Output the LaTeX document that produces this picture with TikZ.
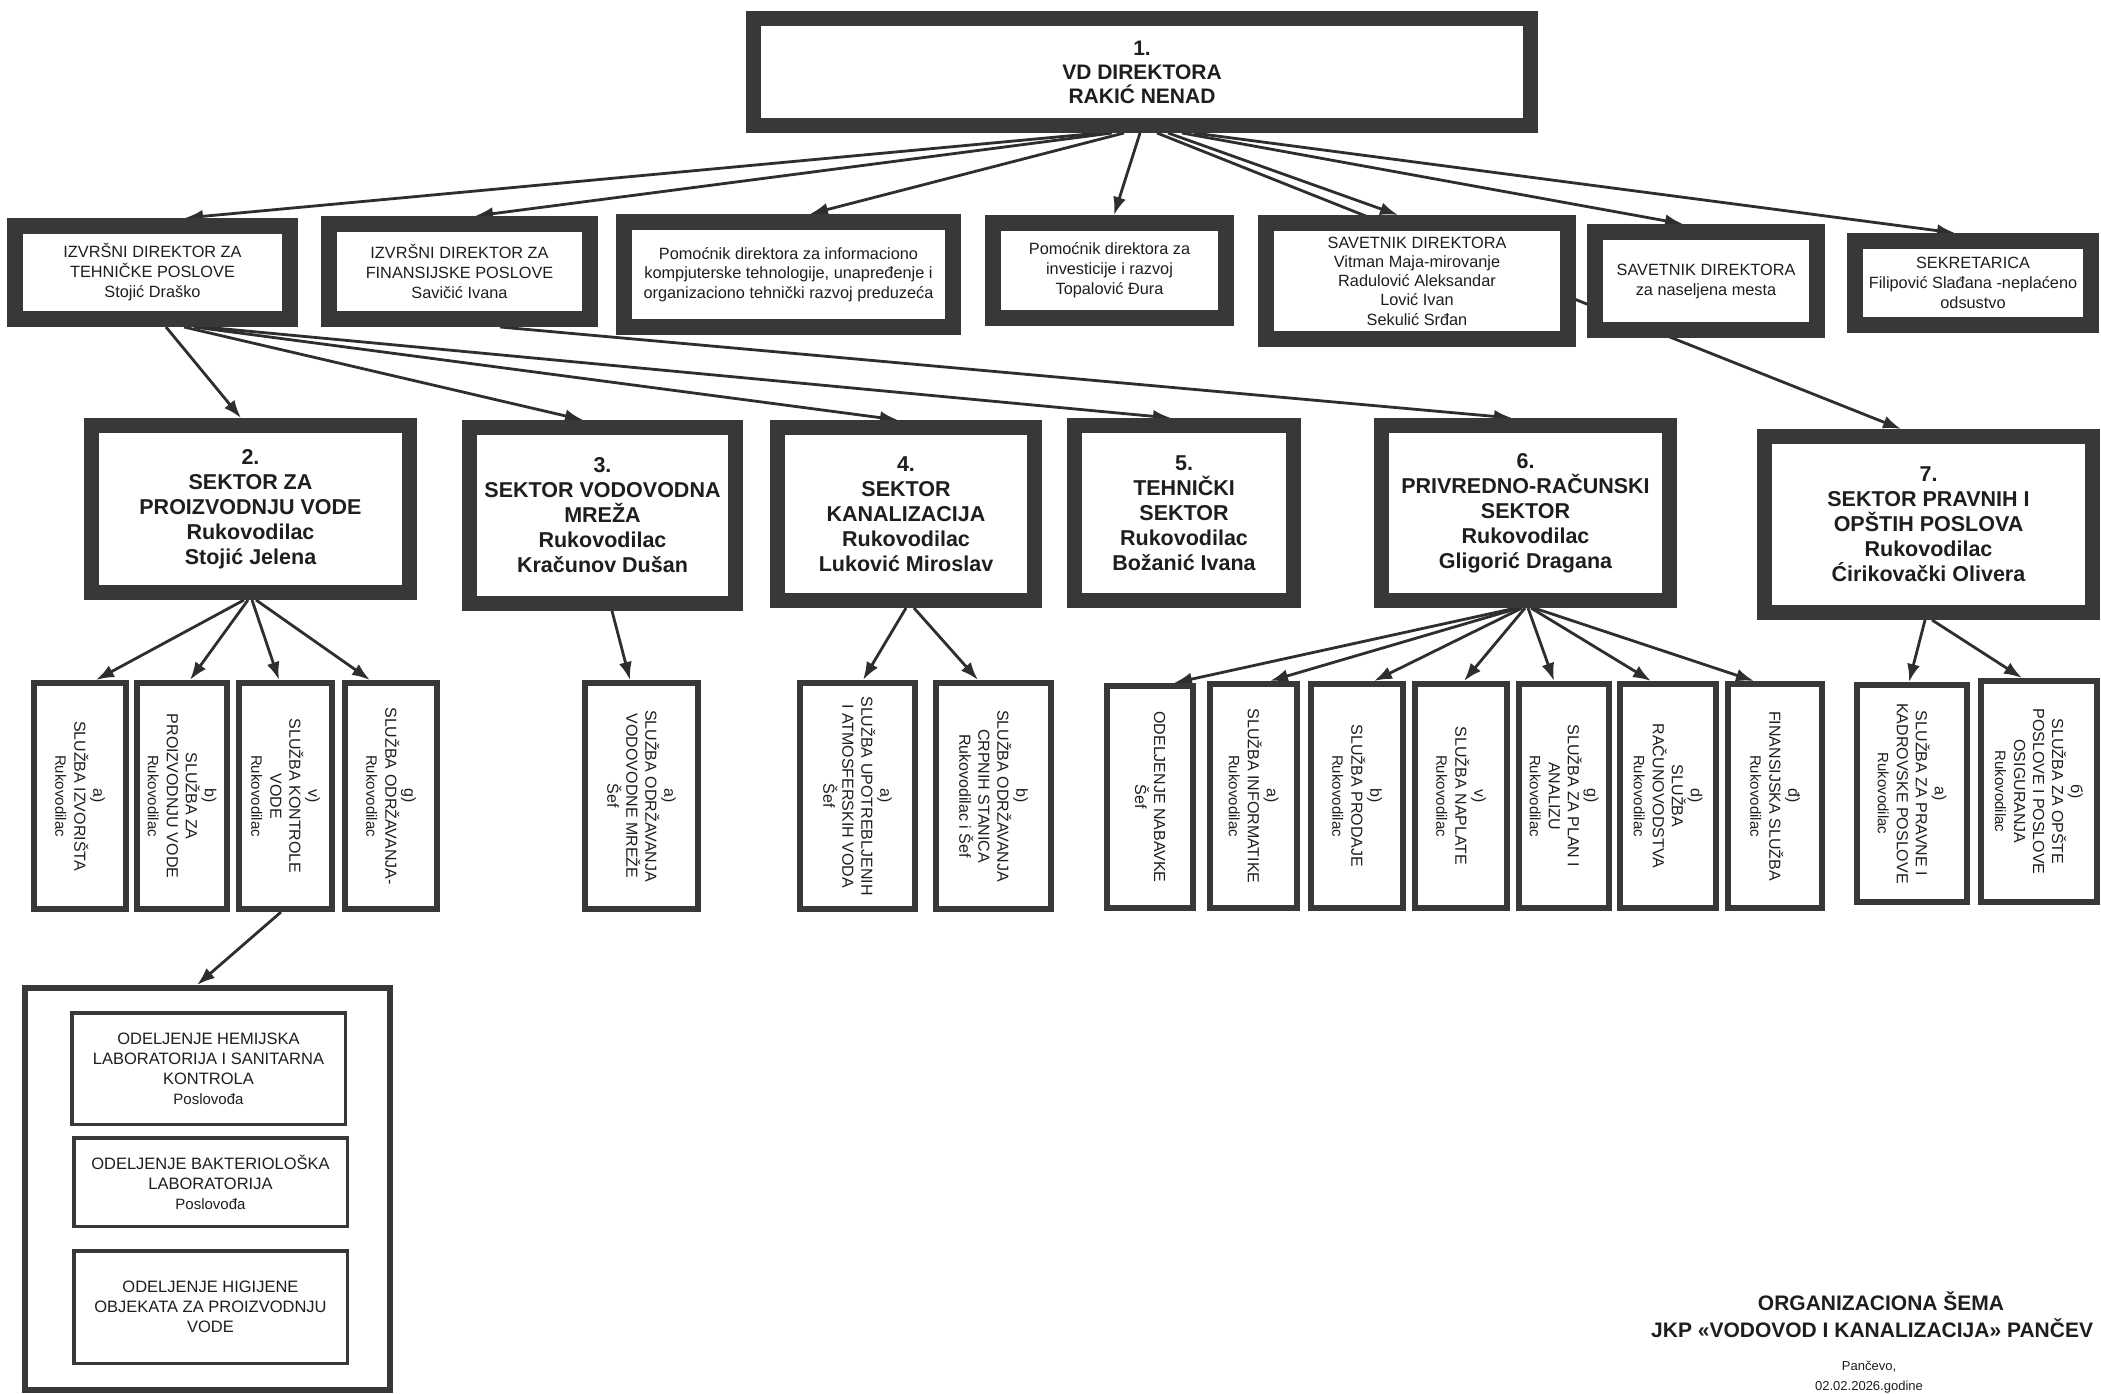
\documentclass[tikz,border=0pt]{standalone}
\usepackage{fontspec}
\setmainfont{Liberation Sans}
\usetikzlibrary{arrows.meta}
\pgfdeclarelayer{bg}
\pgfsetlayers{bg,main}
\definecolor{frame}{HTML}{383838}
\definecolor{ink}{HTML}{1E1E1E}
\definecolor{wirec}{HTML}{2E2E2E}
\tikzset{
  bxbase/.style={draw=frame, fill=white, inner sep=0pt, align=center, text=ink},
  b1/.style={bxbase, font=\bfseries\fontsize{21}{24}\selectfont},
  b2/.style={bxbase, font=\fontsize{16.3}{20}\selectfont},
  b2s/.style={bxbase, font=\fontsize{16.3}{19.3}\selectfont},
  b3/.style={bxbase, font=\bfseries\fontsize{21.5}{25}\selectfont},
  vb/.style={bxbase},
  vt/.style={rotate=-90, align=center, text=ink, inner sep=0pt, font=\fontsize{16}{19}\selectfont},
  labo/.style={bxbase},
  labi/.style={bxbase, font=\fontsize{16.5}{20}\selectfont},
  wire/.style={draw=wirec, line width=2.8pt, -{Latex[length=18pt,width=13pt]}},
}
\newcommand\BX[8]{\node[#6, line width=#7pt, minimum width={(#4)-(#2)-(#7)}, minimum height={(#5)-(#3)-(#7)}] (#1) at ({((#2)+(#4))/2},{((#3)+(#5))/2}) {#8};}
\newcommand\VB[6]{\BX{#1}{#2}{#3}{#4}{#5}{vb}{6}{}\node[vt] (#1t) at (#1.center) {#6};}
\newcommand\sub[1]{{\fontsize{15}{18}\selectfont #1}}
\begin{document}
\begin{tikzpicture}[x=1pt,y=-1pt]
\useasboundingbox (0,0) rectangle (2101,1394);
% top
\BX{top}{746}{11}{1538}{133}{b1}{15}{1.\\VD DIREKTORA\\RAKIĆ NENAD}
% row 2
\BX{teh}{7}{218}{298}{327}{b2}{16}{IZVRŠNI DIREKTOR ZA\\TEHNIČKE POSLOVE\\Stojić Draško}
\BX{fin}{321}{216}{598}{327}{b2}{16}{IZVRŠNI DIREKTOR ZA\\FINANSIJSKE POSLOVE\\Savičić Ivana}
\BX{inf}{616}{214}{961}{335}{b2s}{16}{Pomoćnik direktora za informaciono\\kompjuterske tehnologije, unapređenje i\\organizaciono tehnički razvoj preduzeća}
\BX{inv}{985}{215}{1234}{326}{b2}{16}{Pomoćnik direktora za\\investicije i razvoj\\Topalović Đura}
\BX{vit}{1258}{215}{1576}{347}{b2s}{16}{SAVETNIK DIREKTORA\\Vitman Maja-mirovanje\\Radulović Aleksandar\\Lović Ivan\\Sekulić Srđan}
\BX{nas}{1587}{224}{1825}{338}{b2}{16}{SAVETNIK DIREKTORA\\za naseljena mesta}
\BX{sek}{1847}{233}{2099}{333}{b2}{16}{SEKRETARICA\\Filipović Slađana -neplaćeno\\odsustvo}
% sectors
\BX{s2}{84}{418}{417}{600}{b3}{15}{2.\\SEKTOR ZA\\PROIZVODNJU VODE\\Rukovodilac\\Stojić Jelena}
\BX{s3}{462}{420}{743}{611}{b3}{15}{3.\\SEKTOR VODOVODNA\\MREŽA\\Rukovodilac\\Kračunov Dušan}
\BX{s4}{770}{420}{1042}{608}{b3}{15}{4.\\SEKTOR\\KANALIZACIJA\\Rukovodilac\\Luković Miroslav}
\BX{s5}{1067}{418}{1301}{608}{b3}{15}{5.\\TEHNIČKI\\SEKTOR\\Rukovodilac\\Božanić Ivana}
\BX{s6}{1374}{418}{1677}{608}{b3}{15}{6.\\PRIVREDNO-RAČUNSKI\\SEKTOR\\Rukovodilac\\Gligorić Dragana}
\BX{s7}{1757}{429}{2100}{620}{b3}{15}{7.\\SEKTOR PRAVNIH I\\OPŠTIH POSLOVA\\Rukovodilac\\Ćirikovački Olivera}
% row 4
\VB{iz}{31}{680}{129}{912}{a)\\SLUŽBA IZVORIŠTA\\\sub{Rukovodilac}}
\VB{pv}{134}{680}{230}{912}{b)\\SLUŽBA ZA\\PROIZVODNJU VODE\\\sub{Rukovodilac}}
\VB{kv}{236}{680}{335}{912}{v)\\SLUŽBA KONTROLE\\VODE\\\sub{Rukovodilac}}
\VB{od}{342}{680}{440}{912}{g)\\SLUŽBA ODRŽAVANJA-\\\sub{Rukovodilac}}
\VB{vm}{582}{680}{701}{912}{a)\\SLUŽBA ODRŽAVANJA\\VODOVODNE MREŽE\\Šef}
\VB{up}{797}{680}{918}{912}{a)\\SLUŽBA UPOTREBLJENIH\\I ATMOSFERSKIH VODA\\Šef}
\VB{cr}{933}{680}{1054}{912}{b)\\SLUŽBA ODRŽAVANJA\\CRPNIH STANICA\\Rukovodilac i Šef}
\VB{nb}{1104}{683}{1196}{911}{ODELJENJE NABAVKE\\Šef}
\VB{ik}{1207}{681}{1300}{911}{a)\\SLUŽBA INFORMATIKE\\\sub{Rukovodilac}}
\VB{pr}{1308}{681}{1406}{911}{b)\\SLUŽBA PRODAJE\\\sub{Rukovodilac}}
\VB{np}{1412}{681}{1510}{911}{v)\\SLUŽBA NAPLATE\\\sub{Rukovodilac}}
\VB{pl}{1516}{681}{1612}{911}{g)\\SLUŽBA ZA PLAN I\\ANALIZU\\\sub{Rukovodilac}}
\VB{ra}{1617}{681}{1719}{911}{d)\\SLUŽBA\\RAČUNOVODSTVA\\\sub{Rukovodilac}}
\VB{fi}{1725}{681}{1825}{911}{đ)\\FINANSIJSKA SLUŽBA\\\sub{Rukovodilac}}
\VB{pk}{1854}{682}{1970}{905}{a)\\SLUŽBA ZA PRAVNE I\\KADROVSKE POSLOVE\\\sub{Rukovodilac}}
\VB{os}{1978}{678}{2100}{905}{б)\\SLUŽBA ZA OPŠTE\\POSLOVE I POSLOVE\\OSIGURANJA\\\sub{Rukovodilac}}
% lab
\BX{lab}{22}{985}{393}{1393}{labo}{6}{}
\BX{l1}{70}{1011}{347}{1126}{labi}{3.5}{ODELJENJE HEMIJSKA\\LABORATORIJA I SANITARNA\\KONTROLA\\{\fontsize{15}{19}\selectfont Poslovođa}}
\BX{l2}{72}{1136}{349}{1228}{labi}{3.5}{ODELJENJE BAKTERIOLOŠKA\\LABORATORIJA\\{\fontsize{15}{19}\selectfont Poslovođa}}
\BX{l3}{72}{1249}{349}{1365}{labi}{3.5}{ODELJENJE HIGIJENE\\OBJEKATA ZA PROIZVODNJU\\VODE}
% title
\node[text=ink, font=\bfseries\fontsize{21}{25}\selectfont] (t1) at (1881,1301) {ORGANIZACIONA ŠEMA};
\node[text=ink, anchor=west, inner sep=0pt, font=\bfseries\fontsize{21}{25}\selectfont] (t2) at (1651,1328) {JKP «VODOVOD I KANALIZACIJA» PANČEV};
\node[text=ink, font=\fontsize{13}{15}\selectfont] (t3) at (1869,1367) {Pančevo,};
\node[text=ink, font=\fontsize{13}{15}\selectfont] (t4) at (1869,1387) {02.02.2026.godine};
% connectors
\begin{pgfonlayer}{bg}
\fill[white] (0,0) rectangle (2101,1394);
\draw[wire] (top.south -| 1100,0) -- (teh.north -| 185,0);
\draw[wire] (top.south -| 1112,0) -- (fin.north -| 475,0);
\draw[wire] (top.south -| 1124,0) -- (inf.north -| 810,0);
\draw[wire] (top.south -| 1140,0) -- (inv.north -| 1114,0);
\draw[wire] (top.south -| 1157,0) -- (s7.north -| 1901,0);
\draw[wire] (top.south -| 1168,0) -- (vit.north -| 1398,0);
\draw[wire] (top.south -| 1182,0) -- (nas.north -| 1683,0);
\draw[wire] (top.south -| 1194,0) -- (sek.north -| 1955,0);
\draw[wire] (teh.south -| 166,0) -- (s2.north -| 241,0);
\draw[wire] (teh.south -| 184,0) -- (s3.north -| 583,0);
\draw[wire] (teh.south -| 194,0) -- (s4.north -| 898,0);
\draw[wire] (teh.south -| 204,0) -- (s5.north -| 1171,0);
\draw[wire] (fin.south -| 500,0) -- (s6.north -| 1512,0);
\draw[wire] (s2.south -| 244,0) -- (iz.north -| 96,0);
\draw[wire] (s2.south -| 248,0) -- (pv.north -| 190,0);
\draw[wire] (s2.south -| 252,0) -- (kv.north -| 279,0);
\draw[wire] (s2.south -| 256,0) -- (od.north -| 370,0);
\draw[wire] (s3.south -| 612,0) -- (vm.north -| 630,0);
\draw[wire] (s4.south -| 906,0) -- (up.north -| 863,0);
\draw[wire] (s4.south -| 914,0) -- (cr.north -| 978,0);
\draw[wire] (s6.south -| 1516,0) -- (nb.north -| 1174,0);
\draw[wire] (s6.south -| 1519,0) -- (ik.north -| 1270,0);
\draw[wire] (s6.south -| 1522,0) -- (pr.north -| 1374,0);
\draw[wire] (s6.south -| 1525,0) -- (np.north -| 1464,0);
\draw[wire] (s6.south -| 1528,0) -- (pl.north -| 1554,0);
\draw[wire] (s6.south -| 1531,0) -- (ra.north -| 1651,0);
\draw[wire] (s6.south -| 1534,0) -- (fi.north -| 1754,0);
\draw[wire] (s7.south -| 1925,0) -- (pk.north -| 1909,0);
\draw[wire] (s7.south -| 1932,0) -- (os.north -| 2022,0);
\draw[wire] (kv.south -| 281,0) -- (lab.north -| 197,0);
\end{pgfonlayer}
\end{tikzpicture}
\end{document}
